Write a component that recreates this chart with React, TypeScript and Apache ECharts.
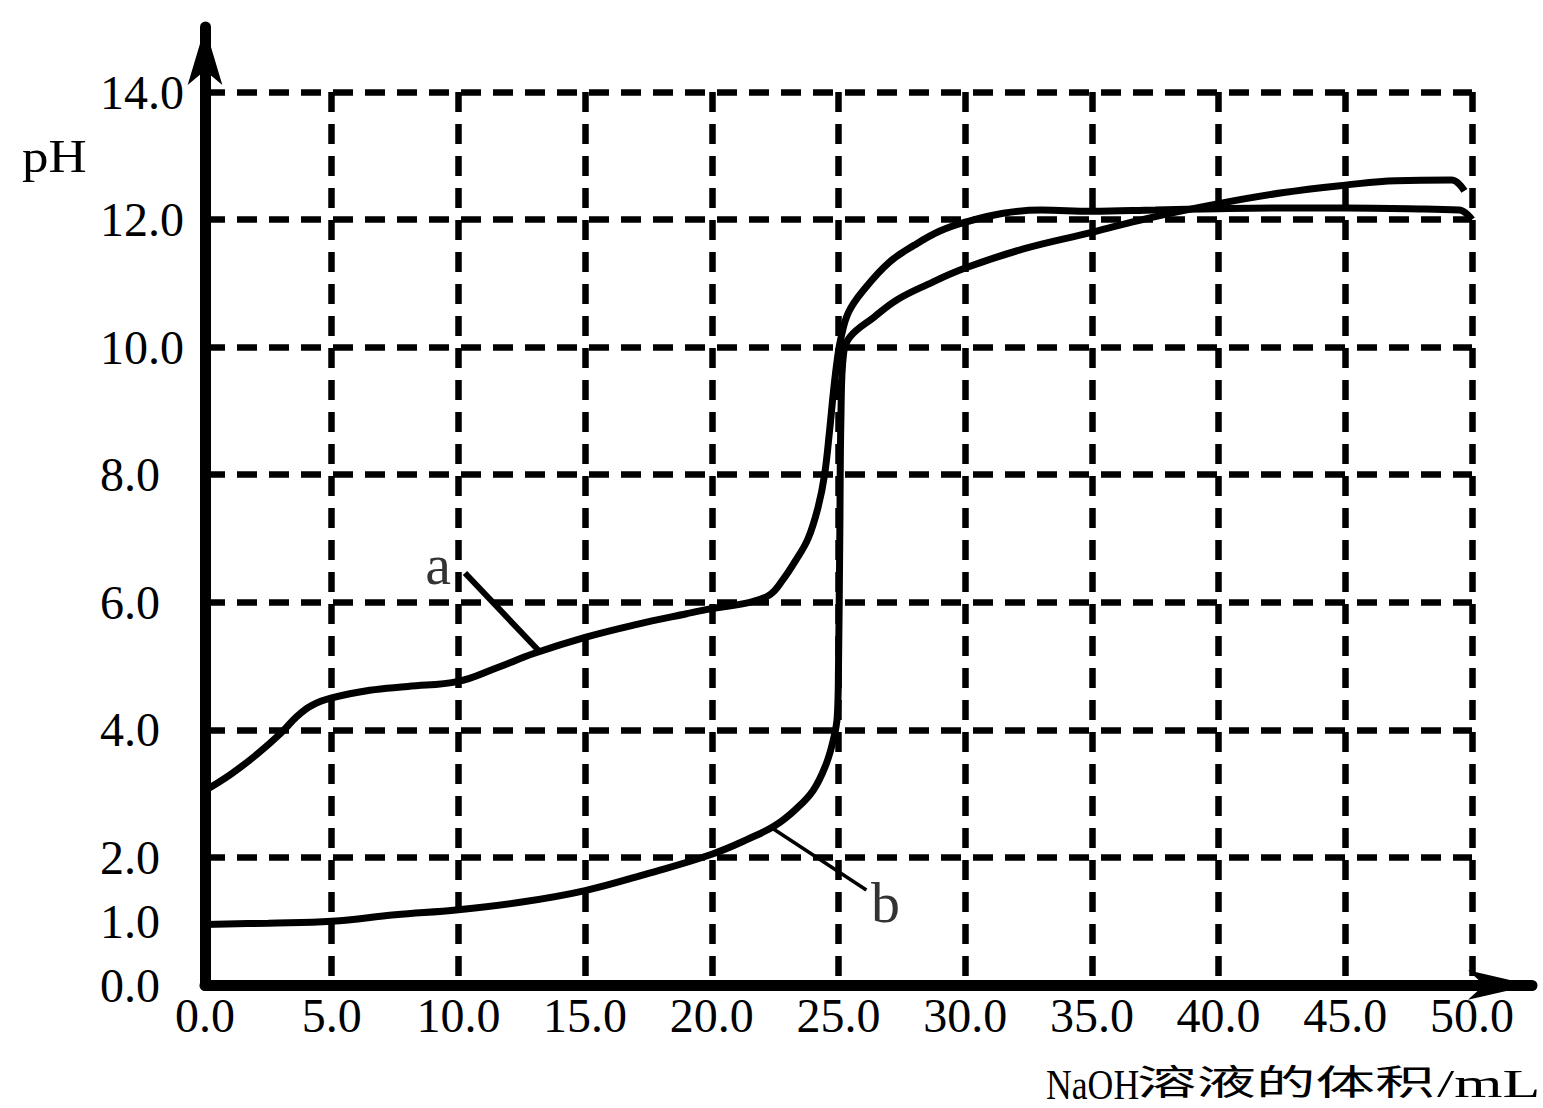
import React, { useEffect, useRef } from "react";
import * as echarts from "echarts";

// ---- data ----
const xTickStep = 5;
const xMax = 50;
const xAxisEnd = 52.37; // arrow axis runs past 50 so its arrowhead sits beyond the grid
const yTickStep = 2;
const yMax = 14;
const yAxisEnd = 15.02;
const yLabelValues = [0, 1, 2, 4, 6, 8, 10, 12, 14];

// curve a (volume of NaOH / mL, pH)
const volumeA = [0, 1, 2, 3, 3.6, 4.2, 5, 6.5, 8, 10, 11.5, 13, 15, 17, 19, 20, 21.5, 22.3, 22.8, 23.3, 23.8, 24.2, 24.45, 24.65, 24.8, 24.95, 25.1, 25.4, 26, 27, 28, 29, 30, 31.5, 33, 35, 37.5, 40, 42.5, 45, 47.5, 49.5, 50];
const phA = [3.05, 3.3, 3.6, 3.95, 4.2, 4.38, 4.5, 4.62, 4.68, 4.76, 4.97, 5.2, 5.45, 5.65, 5.82, 5.9, 6.0, 6.12, 6.35, 6.65, 7.0, 7.5, 8.0, 8.7, 9.3, 9.8, 10.15, 10.55, 10.9, 11.33, 11.6, 11.82, 11.96, 12.1, 12.15, 12.13, 12.15, 12.17, 12.18, 12.18, 12.17, 12.15, 12.0];

// curve b
const volumeB = [0, 2.5, 5, 7.5, 10, 12.5, 15, 17.5, 20, 21.5, 22.5, 23.3, 24, 24.5, 24.8, 24.95, 25.0, 25.05, 25.1, 25.2, 25.45, 26.4, 27.3, 28.5, 30, 32.3, 35, 37.2, 40, 42.5, 45, 47, 49.2, 49.7];
const phB = [0.95, 0.97, 1.0, 1.1, 1.18, 1.3, 1.48, 1.75, 2.05, 2.3, 2.5, 2.75, 3.05, 3.45, 3.85, 4.2, 5.0, 7.0, 9.0, 9.9, 10.16, 10.47, 10.74, 10.98, 11.24, 11.54, 11.8, 12.02, 12.25, 12.42, 12.54, 12.61, 12.62, 12.45];

// annotation leaders and labels (data coordinates)
const leaderA = [[10.26, 6.46], [13.22, 5.22]];
const leaderB = [[22.3, 2.48], [26.1, 1.49]];
const labelA = [9.2, 6.6];
const labelB = [26.85, 1.3];

const SERIF = '"Liberation Serif", "Times New Roman", serif';

export default function App() {
  const ref = useRef<HTMLDivElement>(null);
  useEffect(() => {
    if (!ref.current) return;
    const chart = echarts.init(ref.current, null, { renderer: "svg" });
    const gridStyle = { color: "#000", width: 6.5, type: [20, 12] as any };
    const hidden = { show: false };
    chart.setOption({
      animation: false,
      backgroundColor: "#fff",
      grid: [
        { left: 205, right: 71, top: 92, bottom: 123, containLabel: false },
        { left: 205, right: 11, top: 27, bottom: 123, containLabel: false },
      ],
      xAxis: [
        {
          gridIndex: 0,
          type: "value",
          min: 0,
          max: xMax,
          interval: xTickStep,
          axisLine: hidden,
          axisTick: hidden,
          axisLabel: {
            color: "#000",
            fontFamily: SERIF,
            fontSize: 48,
            margin: 6,
            formatter: (v: number) => v.toFixed(1),
          },
          splitLine: { show: true, showMinLine: false, lineStyle: gridStyle },
        },
        {
          gridIndex: 1,
          type: "value",
          min: 0,
          max: xAxisEnd,
          axisLine: {
            show: true,
            onZero: false,
            lineStyle: { color: "#000", width: 11 },
            symbol: ["none", "arrow"],
            symbolSize: [22, 64],
          },
          axisTick: hidden,
          axisLabel: hidden,
          splitLine: hidden,
        },
      ],
      yAxis: [
        {
          gridIndex: 0,
          type: "value",
          min: 0,
          max: yMax,
          interval: yTickStep,
          axisLine: hidden,
          axisTick: hidden,
          axisLabel: {
            color: "#000",
            fontFamily: SERIF,
            fontSize: 48,
            align: "left",
            margin: 105,
            padding: [12, 0, 0, 0],
            customValues: yLabelValues,
            formatter: (v: number) => v.toFixed(1),
          },
          splitLine: { show: true, showMinLine: false, lineStyle: gridStyle },
        },
        {
          gridIndex: 1,
          type: "value",
          min: 0,
          max: yAxisEnd,
          axisLine: {
            show: true,
            onZero: false,
            lineStyle: { color: "#000", width: 11 },
            symbol: ["none", "arrow"],
            symbolSize: [26, 58],
          },
          axisTick: hidden,
          axisLabel: hidden,
          splitLine: hidden,
        },
      ],
      series: [
        {
          type: "line",
          data: volumeA.map((x, i) => [x, phA[i]]),
          showSymbol: false,
          smooth: 0.4,
          lineStyle: { color: "#000", width: 7 },
          z: 3,
        },
        {
          type: "line",
          data: volumeB.map((x, i) => [x, phB[i]]),
          showSymbol: false,
          smooth: 0.4,
          lineStyle: { color: "#000", width: 7 },
          z: 3,
        },
        {
          type: "line",
          data: leaderA,
          showSymbol: false,
          lineStyle: { color: "#000", width: 6 },
          z: 3,
        },
        {
          type: "line",
          data: leaderB,
          showSymbol: false,
          lineStyle: { color: "#000", width: 3.5 },
          z: 3,
        },
        {
          type: "scatter",
          data: [
            { value: labelA, name: "a" },
            { value: labelB, name: "b" },
          ],
          symbolSize: 1,
          itemStyle: { color: "rgba(0,0,0,0)" },
          label: {
            show: true,
            position: "inside",
            formatter: (p: any) => p.name,
            color: "#000",
            fontFamily: SERIF,
            fontSize: 58,
          },
          z: 4,
        },
      ],
      graphic: [
        {
          type: "text",
          x: 22,
          y: 157,
          scaleX: 1.15,
          style: { text: "pH", fontFamily: SERIF, fontSize: 46, lineHeight: 46, fill: "#000", align: "left", verticalAlign: "middle" },
        },
        {
          type: "text",
          x: 1046,
          y: 1084,
          scaleX: 0.85,
          style: { text: "NaOH", fontFamily: SERIF, fontSize: 42, lineHeight: 40, fill: "#000", align: "left", verticalAlign: "middle" },
        },
        {
          type: "text",
          x: 1137,
          y: 1080,
          scaleX: 1.7,
          style: { text: "溶液的体积", fontFamily: '"Noto Sans CJK SC", sans-serif', fontSize: 35, lineHeight: 35, fill: "#000", align: "left", verticalAlign: "middle" },
        },
        {
          type: "text",
          x: 1437,
          y: 1084,
          scaleX: 1.55,
          style: { text: "/mL", fontFamily: SERIF, fontSize: 40, lineHeight: 40, fill: "#000", align: "left", verticalAlign: "middle" },
        },
      ],
    });
    return () => chart.dispose();
  }, []);
  return (
    <div
      ref={ref}
      style={{ position: "absolute", left: 0, top: 0, width: 1543, height: 1108, background: "#fff" }}
    />
  );
}
